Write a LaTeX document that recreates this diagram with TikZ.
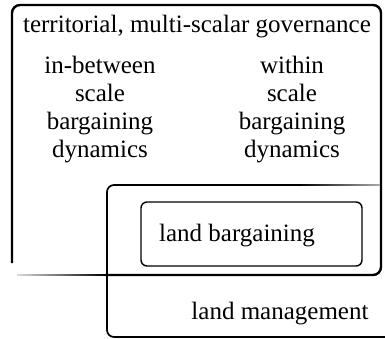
\documentclass[tikz,border=0pt]{standalone}
\usepackage{fontspec}
\setmainfont{Liberation Serif}
\begin{document}
\begin{tikzpicture}[x=1pt,y=-1pt,
  frame/.style={line width=2.4pt,rounded corners=8pt},
  thinframe/.style={line width=1.7pt,rounded corners=7pt},
  label/.style={inner sep=0pt,align=center,font=\fontsize{25}{28}\selectfont}]
  \useasboundingbox (0,0) rectangle (385,338);

  % outer frame: territorial, multi-scalar governance
  \draw[frame] (12,263) -- (12,5) -- (381,5) -- (381,275) -- (105,275);
  % its lower edge fades out towards the left
  \foreach \i in {0,...,29} {
    \pgfmathsetmacro{\pct}{15+85*\i/29}
    \fill[color=black!\pct] (17+3*\i,274.1) rectangle (20+3*\i,275.9);
  }

  % land management frame (open on the right)
  \draw[thinframe] (300,185) -- (107,185) -- (107,337) -- (386,337);
  % its upper edge fades out towards the right
  \foreach \i in {0,...,26} {
    \pgfmathsetmacro{\pct}{100-65*\i/26}
    \fill[color=black!\pct] (299+3*\i,184.15) rectangle (302+3*\i,185.85);
  }

  % land bargaining frame
  \draw[line width=1.4pt,rounded corners=6pt] (141,202) rectangle (362,266);

  % labels
  \node[label] (gov) at (197,27) {territorial, multi-scalar governance};
  \node[label] (inbetween) at (100,110) {in-between\\scale\\bargaining\\dynamics};
  \node[label] (within) at (292,110) {within\\scale\\bargaining\\dynamics};
  \node[label] (lb) at (237,236) {land bargaining};
  \node[label] (lm) at (280,314) {land management};
\end{tikzpicture}
\end{document}
